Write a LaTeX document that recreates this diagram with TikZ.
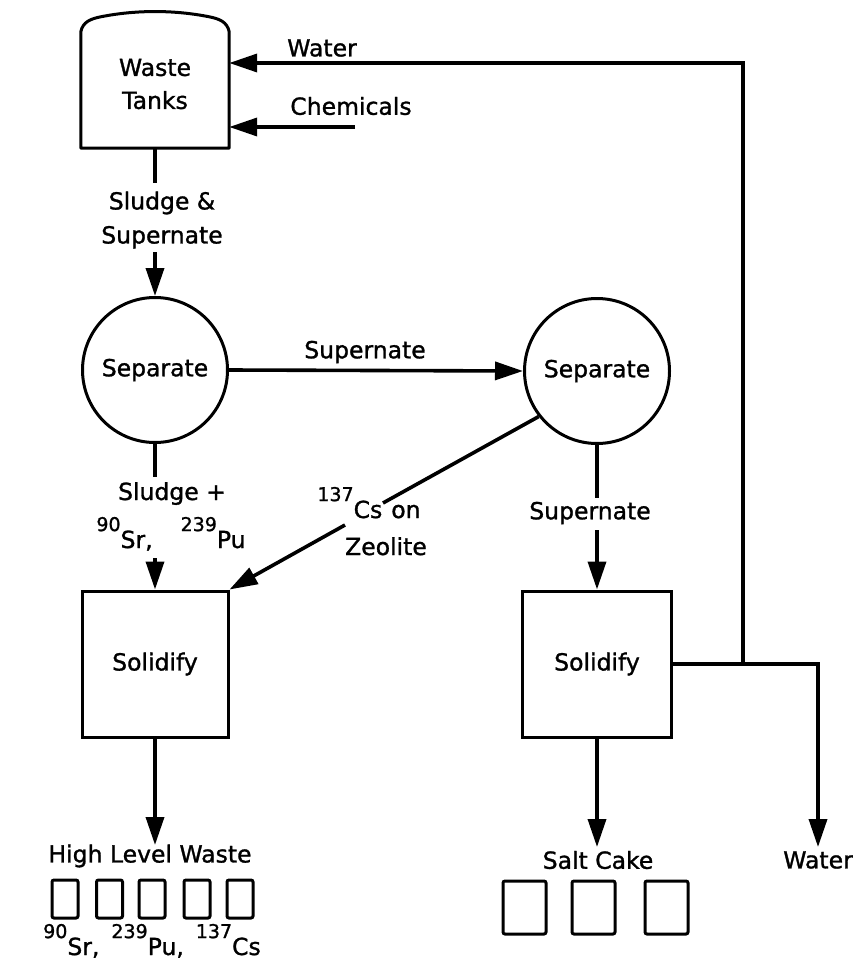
\documentclass[tikz,border=0pt]{standalone}
\usepackage{fontspec}
\setmainfont{DejaVu Sans}[BoldFont={DejaVu Sans}, BoldFeatures={FakeBold=1.2}]
\usetikzlibrary{arrows.meta,calc}
\newcommand\iso[2]{\raisebox{0.72em}{\fontsize{19}{19}\selectfont #1}#2}
\begin{document}
\begin{tikzpicture}[x=1pt,y=-1pt,
  lbl/.style={font=\fontsize{23.5}{34}\selectfont\bfseries, align=center, inner sep=1pt},
  conn/.style={line width=3.6pt},
  arr/.style={conn,-{Triangle[length=28pt,width=18pt]}},
  unitbox/.style={draw, line width=3pt, minimum height=146pt, inner sep=0pt, font=\fontsize{23.5}{34}\selectfont\bfseries},
  sepnode/.style={circle, draw, line width=3pt, minimum size=145pt, inner sep=0pt, font=\fontsize{23.5}{34}\selectfont\bfseries},
  can/.style={draw, line width=3pt, rounded corners=2pt, inner sep=0pt}]
\useasboundingbox (0,0) rectangle (857,963);

% waste tank
\node[lbl, minimum width=148pt, minimum height=128pt, inner sep=0pt] (tank) at (155,84) {Waste\\[-1pt]Tanks};
\draw[line width=3pt, line join=round] (tank.south west) -- ($(tank.north west)+(0,12)$)
  .. controls ($(tank.north west)+(2,2)$) and ($(tank.north west)+(10,-1)$) .. ($(tank.north west)+(20,-3)$)
  .. controls ($(tank.north west)+(55,-10)$) and ($(tank.north east)+(-55,-10)$) .. ($(tank.north east)+(-20,-3)$)
  .. controls ($(tank.north east)+(-10,-1)$) and ($(tank.north east)+(-2,2)$) .. ($(tank.north east)+(0,12)$)
  -- (tank.south east) -- cycle;

% separators and solidifiers
\node[sepnode] (sep1) at (155,370) {Separate};
\node[sepnode] (sep2) at (597,371) {Separate};
\node[unitbox, minimum width=146pt] (box1) at (155,664) {Solidify};
\node[unitbox, minimum width=149pt] (box2) at (597,664) {Solidify};

% tank -> sep1
\coordinate (c1) at (155,183);
\draw[conn] (tank.south) -- (c1);
\node[lbl] (l1) at (162,220) {Sludge \&\\Supernate};
\coordinate (c2) at (155,252);
\draw[arr] (c2) -- (sep1.north);

% sep1 -> sep2
\draw[arr] (sep1.east) -- (sep2.west);
\node[lbl] (l2) at (365,352) {Supernate};

% sep1 -> box1
\coordinate (c3) at (155,477);
\draw[conn] (sep1.south) -- (c3);
\node[lbl, anchor=base] (l3) at (172,500) {Sludge +};
\node[lbl, anchor=base] (l4) at (171,548) {\iso{90}{Sr,}\hspace{28pt}\iso{239}{Pu}};
\coordinate (c4) at (155,558);
\draw[arr] (c4) -- (box1.north);

% sep2 -> box1 (diagonal)
\coordinate (g1) at (383,503);
\coordinate (g2) at (345,525);
\draw[conn] (sep2.218) -- (g1);
\draw[arr] (g2) -- (box1.north east);
\node[lbl, anchor=base] (l5) at (369,518) {\iso{137}{Cs}\hspace{9pt}on};
\node[lbl, anchor=base] (l6) at (386,555) {Zeolite};

% sep2 -> box2
\coordinate (c5) at (597,498);
\draw[conn] (sep2.south) -- (c5);
\node[lbl] (l7) at (590,513) {Supernate};
\coordinate (c6) at (597,530);
\draw[arr] (c6) -- (box2.north);

% water recycle and water out
\coordinate (wd) at (818,847);
\draw[arr] (box2.east) -| (wd);
\coordinate (j) at (743,664);
\coordinate (wt) at (743,63);
\draw[arr] (j) -- (wt) -- (tank.east |- wt);
\node[lbl] (lw) at (322,48) {Water};
\coordinate (ch) at (355,127);
\draw[arr] (ch) -- (tank.east |- ch);
\node[lbl] (lc) at (351,106) {Chemicals};
\node[lbl] (lwo) at (818,860) {Water};

% high level waste
\coordinate (hl) at (155,845);
\draw[arr] (box1.south) -- (hl);
\node[lbl] (lh) at (150,856) {High Level Waste};
\foreach \x [count=\i] in {65,109.5,152,197,240}
  \node[can, minimum width=26pt, minimum height=38pt] (hb\i) at (\x,899) {};
\node[lbl, anchor=base] (liso) at (152,955) {\iso{90}{Sr,}\hspace{12pt}\iso{239}{Pu,}\hspace{12pt}\iso{137}{Cs}};

% salt cake
\coordinate (sc) at (597,847);
\draw[arr] (box2.south) -- (sc);
\node[lbl] (ls) at (598,860) {Salt Cake};
\foreach \x [count=\i] in {524.5,593.5,666.5}
  \node[can, minimum width=43pt, minimum height=53pt] (sb\i) at (\x,907.5) {};
\end{tikzpicture}
\end{document}
